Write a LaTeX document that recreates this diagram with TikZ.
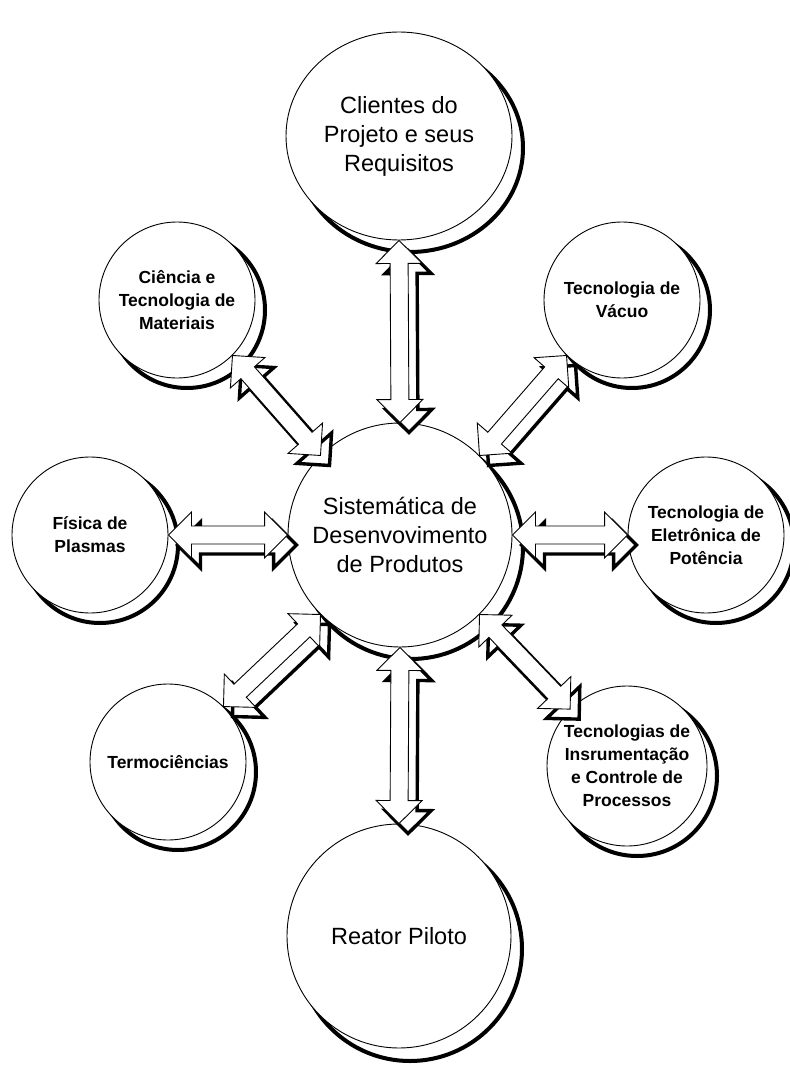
\documentclass[tikz,border=0pt]{standalone}
\usepackage{fontspec}
\setmainfont{Liberation Sans}
\usetikzlibrary{calc,shapes.geometric}

\tikzset{
  shadowline/.style={draw=black, fill=white, line width=4pt},
  smallcirc/.style={circle, draw=black, line width=0.9pt, fill=white, minimum size=156pt, inner sep=0pt, align=center,
     font=\fontsize{17.5}{23}\selectfont\bfseries},
  bigcirc/.style={circle, draw=black, line width=0.9pt, fill=white, minimum size=224pt, inner sep=0pt, align=center,
     font=\fontsize{23.5}{29}\selectfont},
  bigtxt/.style={align=center, font=\fontsize{23.5}{29}\selectfont, inner sep=0pt},
  arrowbody/.style={draw=black, fill=white, line width=0.9pt, line join=miter},
  arrowshadow/.style={draw=black, fill=white, line width=3.4pt, line join=miter,
     transform canvas={shift={(9pt,-10pt)}}},
}

% block double arrow between two named points
\newcommand\dblarrow[3]{%
  \coordinate (ha) at ($(#2)!23pt!(#3)$);
  \coordinate (hb) at ($(#3)!23pt!(#2)$);
  \path[#1] (#2)
    -- ($(ha)!23pt!90:(#3)$) -- ($(ha)!9pt!90:(#3)$)
    -- ($(hb)!9pt!-90:(#2)$) -- ($(hb)!23pt!-90:(#2)$)
    -- (#3)
    -- ($(hb)!23pt!90:(#2)$) -- ($(hb)!9pt!90:(#2)$)
    -- ($(ha)!9pt!-90:(#3)$) -- ($(ha)!23pt!-90:(#3)$)
    -- cycle;
}
\newcommand\linkarrow[2]{%
  \dblarrow{arrowshadow}{#1}{#2}%
  \dblarrow{arrowbody}{#1}{#2}%
}

\begin{document}
\begin{tikzpicture}[x=1pt, y=-1pt]
\useasboundingbox (0,0) rectangle (789,1067);

% circle shadows
\path[shadowline] (410,148) ellipse [x radius=113pt, y radius=104pt];
\path[shadowline] (411,547) circle [radius=112pt];
\path[shadowline] (410,949) circle [radius=112pt];
\path[shadowline] (187,310) circle [radius=78pt];
\path[shadowline] (632,310) circle [radius=78pt];
\path[shadowline] (100,545) circle [radius=78pt];
\path[shadowline] (716,545) circle [radius=78pt];
\path[shadowline] (178,772) circle [radius=78pt];
\path[shadowline] (637,776) circle [radius=80pt];

% circles
\node[ellipse, draw=black, line width=0.9pt, fill=white, minimum width=226pt, minimum height=208pt, inner sep=0pt]
   (clientes) at (399,136) {};
\node[bigtxt] (clientestxt) at (clientes.center) {Clientes do\\Projeto e seus\\Requisitos};

\node[bigcirc] (centro) at (400,535) {Sistemática de\\Desenvovimento\\de Produtos};
\node[bigcirc] (reator) at (399,936) {Reator Piloto};

\node[smallcirc] (ciencia) at (177,300) {Ciência e\\Tecnologia de\\Materiais};
\node[smallcirc] (vacuo) at (622,300) {Tecnologia de\\Vácuo};
\node[smallcirc] (fisica) at (90,535) {Física de\\Plasmas};
\node[smallcirc] (eletro) at (706,535) {Tecnologia de\\Eletrônica de\\Potência};
\node[smallcirc] (termo) at (168,762) {Termociências};
\node[smallcirc, minimum size=160pt] (instr) at (627,766) {Tecnologias de\\Insrumentação\\e Controle de\\Processos};

% connectors
\linkarrow{clientes.south}{centro.north}
\linkarrow{centro.south}{reator.north}
\linkarrow{fisica.east}{centro.west}
\linkarrow{centro.east}{eletro.west}
\linkarrow{ciencia.-45}{centro.135}
\linkarrow{vacuo.-135}{centro.45}
\linkarrow{centro.-135}{termo.45}
\linkarrow{centro.-45}{instr.135}
\end{tikzpicture}
\end{document}
